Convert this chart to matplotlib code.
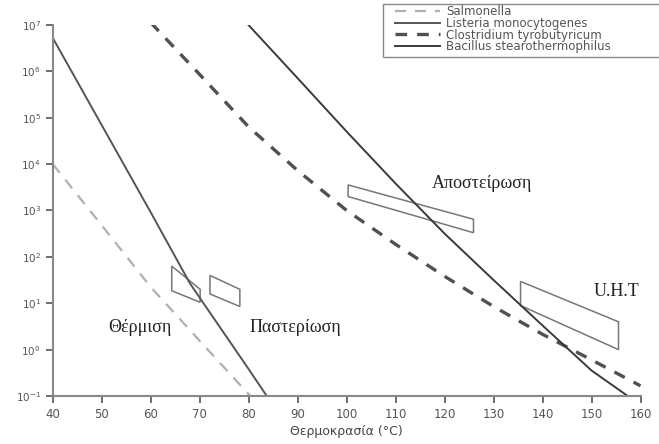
import matplotlib
matplotlib.use('Agg')
import matplotlib.pyplot as plt
from matplotlib.patches import Rectangle
import numpy as np

# log10 of survivors, temperature in °C
salmonella_t = [40, 50, 60, 70, 80, 80.3]
salmonella_log = [4.0, 2.68, 1.35, 0.19, -0.96, -1.0]

listeria_t = [40, 50, 60, 68, 70, 80, 83.7]
listeria_log = [6.72, 4.84, 2.96, 1.43, 1.12, -0.42, -1.0]

clostridium_t = [60, 70, 80, 90, 100, 110, 120, 130, 140, 150, 160]
clostridium_log = [7.05, 5.93, 4.80, 3.86, 3.00, 2.27, 1.58, 0.93, 0.33, -0.22, -0.78]

bacillus_t = [79.5, 90, 100, 110, 120, 130, 140, 150, 157.4]
bacillus_log = [7.05, 5.85, 4.70, 3.58, 2.50, 1.50, 0.52, -0.45, -1.0]

# treatment zones (parallelograms): corner temperatures and log counts
zone_names = ['Θέρμιση', 'Παστερίωση', 'Αποστείρωση', 'U.H.T']
zone_t = [(64.3, 64.3, 70.1, 70.1), (72.1, 72.1, 78.2, 78.2),
          (100.3, 100.3, 125.9, 125.9), (135.5, 135.5, 155.5, 155.5)]
zone_log = [(1.8, 1.27, 1.02, 1.3), (1.6, 1.2, 0.93, 1.3),
            (3.55, 3.3, 2.52, 2.81), (1.47, 0.95, 0.0, 0.6)]
label_pos = [(57.8, 0.48), (89.5, 0.48), (127.7, 3.59), (155.1, 1.25)]

legend_names = ['Salmonella', 'Listeria monocytogenes',
                'Clostridium tyrobutyricum', 'Bacillus stearothermophilus']

fig = plt.figure(figsize=(6.59, 4.44), dpi=100)
ax = fig.add_axes([0.080, 0.108, 0.892, 0.836])

l1, = ax.plot(salmonella_t, 10 ** np.array(salmonella_log), color='#b0b0b0',
              lw=1.6, ls=(0, (5, 4)))
l2, = ax.plot(listeria_t, 10 ** np.array(listeria_log), color='#555555', lw=1.4)
l3, = ax.plot(clostridium_t, 10 ** np.array(clostridium_log), color='#505050',
              lw=2.4, ls=(0, (3.5, 3)))
l4, = ax.plot(bacillus_t, 10 ** np.array(bacillus_log), color='#3a3a3a', lw=1.4)

for t, lg in zip(zone_t, zone_log):
    ax.fill(t, 10 ** np.array(lg), facecolor='none', edgecolor='#777777', lw=1.1)

for name, (x, y) in zip(zone_names, label_pos):
    ax.text(x, 10 ** y, name, family='Liberation Serif', fontsize=13,
            color='#222222', ha='center', va='center')

ax.set_yscale('log')
ax.set_xlim(40, 160)
ax.set_ylim(0.1, 1e7)
ax.set_xticks(np.arange(40, 161, 10))
ax.set_yticks([10.0 ** k for k in range(-1, 8)])
ax.minorticks_off()
ax.tick_params(colors='#555555', labelsize=8.5, length=5, width=1.2)
ax.tick_params(axis='y', labelsize=7.5)
for s in ['top', 'right']:
    ax.spines[s].set_visible(False)
for s in ['left', 'bottom']:
    ax.spines[s].set_color('#888888')
    ax.spines[s].set_linewidth(1.5)
ax.set_xlabel('Θερμοκρασία (°C)', fontsize=9, color='#444444', labelpad=3)

# legend box runs off the right edge in the original
fig.patches.append(Rectangle((383 / 659, 1 - 57 / 444), 0.5, 53 / 444,
                             transform=fig.transFigure, facecolor='white',
                             edgecolor='#888888', lw=1.0, zorder=3))
leg = fig.legend([l1, l2, l3, l4], legend_names, loc='upper left',
                 bbox_to_anchor=(386 / 659, 1 + 4 / 444), fontsize=8.5,
                 frameon=False, handlelength=3.8, handletextpad=0.5,
                 labelspacing=-0.12, borderpad=0.3, labelcolor='#555555')
leg.set_zorder(4)

fig.savefig('out.png', dpi=100)
